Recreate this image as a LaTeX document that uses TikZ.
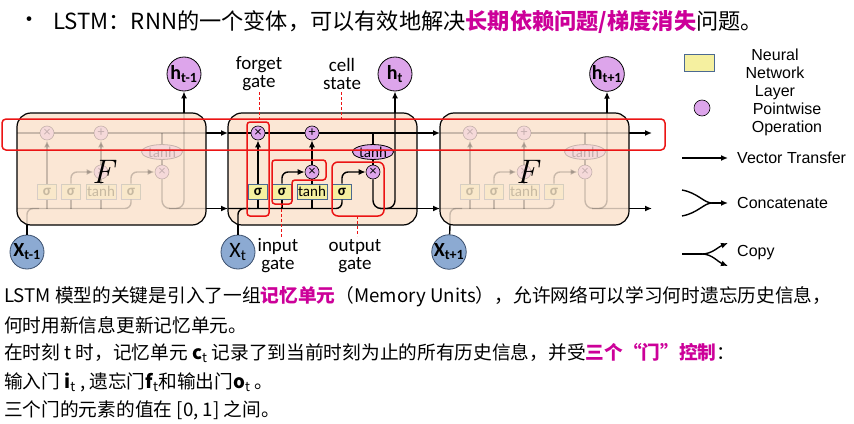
\documentclass[tikz,border=0pt]{standalone}
\usepackage{fontspec}
\setmainfont{Noto Sans CJK SC}
\newfontfamily\calfont{Carlito}
\newfontfamily\arialfont{Liberation Sans}
\newfontfamily\lmfont{Latin Modern Roman}
\usetikzlibrary{arrows.meta,shapes.geometric}
\definecolor{peach}{RGB}{251,231,213}
\definecolor{sigfill}{RGB}{245,240,160}
\definecolor{sigdraw}{RGB}{75,105,145}
\definecolor{opfill}{RGB}{221,165,235}
\definecolor{xfill}{RGB}{140,170,210}
\definecolor{xdraw}{RGB}{60,80,110}
\definecolor{mag}{RGB}{204,0,153}
\definecolor{redline}{RGB}{235,20,20}
\tikzset{
  cellbox/.style={draw=black,line width=1.2pt,fill=peach,rounded corners=14pt,minimum width=189pt,minimum height=112pt,inner sep=0pt},
  flow/.style={draw=black,line width=1.4pt},
  tip/.style={-{Latex[length=7pt,width=6pt]}},
  opnode/.style={circle,draw=black,line width=0.6pt,fill=opfill,minimum size=14pt,inner sep=0pt,font=\calfont\fontsize{14}{14}\selectfont},
  signode/.style={rectangle,draw=sigdraw,line width=1pt,fill=sigfill,minimum width=19pt,minimum height=15pt,inner sep=0pt,font=\calfont\bfseries\fontsize{15}{15}\selectfont},
  thnode/.style={ellipse,draw=black,line width=0.8pt,fill=opfill,minimum width=41pt,minimum height=13pt,inner sep=0pt,font=\calfont\fontsize{15}{15}\selectfont},
  hnode/.style={circle,draw=black,line width=0.8pt,fill=opfill,minimum size=34pt,inner sep=0pt,font=\calfont\bfseries\fontsize{20}{20}\selectfont},
  xnode/.style={circle,draw=xdraw,line width=0.8pt,fill=xfill,minimum size=34pt,inner sep=0pt,font=\calfont\fontsize{22}{22}\selectfont},
  redbox/.style={draw=redline,line width=1.5pt,rounded corners=4pt},
  reddash/.style={draw=redline,line width=1pt,dashed,dash pattern=on 3pt off 2pt},
  lbl/.style={font=\calfont\fontsize{19}{18}\selectfont,align=center,inner sep=0pt},
  lgtext/.style={font=\arialfont\fontsize{16}{18}\selectfont,inner sep=0pt},
  bigF/.style={font=\lmfont\itshape\fontsize{34}{34}\selectfont,inner sep=0pt},
  txt/.style={anchor=west,inner sep=0pt,font=\fontsize{18.7}{18.7}\selectfont},
}
% inner structure of one LSTM cell, in the coordinates of the middle cell
\newcommand\lstminner[1]{%
  \node[opnode] (#1fx) at (258pt,-133pt) {×};
  \node[opnode] (#1px) at (312pt,-133pt) {+};
  \node[opnode] (#1ix) at (312pt,-172pt) {×};
  \node[opnode] (#1ox) at (373pt,-172pt) {×};
  \node[thnode] (#1th) at (373pt,-152pt) {tanh};
  \node[signode] (#1s1) at (258pt,-191.5pt) {σ};
  \node[signode] (#1s2) at (282pt,-191.5pt) {σ};
  \node[signode,minimum width=30pt,font=\calfont\fontsize{15}{15}\selectfont] (#1tb) at (312pt,-191.5pt) {tanh};
  \node[signode] (#1s4) at (342pt,-191.5pt) {σ};
  \coordinate (#1cl) at (228pt,-133pt);
  \coordinate (#1cr) at (417pt,-133pt);
  \coordinate (#1bl) at (228pt,-208.5pt);
  \coordinate (#1br) at (417pt,-208.5pt);
  \coordinate (#1xb) at (238pt,-225pt);
  \coordinate (#1xm) at (250pt,-208.5pt);
  \coordinate (#1hb) at (380pt,-208.5pt);
  \coordinate (#1ht) at (395pt,-113pt);
  \coordinate (#1tc) at (373pt,-133pt);
  \draw[flow] (#1cl) -- (#1fx);
  \draw[flow] (#1fx) -- (#1px);
  \draw[flow] (#1px) -- (#1cr);
  \draw[flow,rounded corners=6pt] (#1bl) -| (#1s4.south);
  \draw[flow,rounded corners=6pt] (#1xb) |- (#1xm);
  \draw[flow] (#1s1.south) -- (#1s1.south |- #1bl);
  \draw[flow] (#1s2.south) -- (#1s2.south |- #1bl);
  \draw[flow] (#1tb.south) -- (#1tb.south |- #1bl);
  \draw[flow,tip] (#1s1) -- (#1fx);
  \draw[flow,tip,rounded corners=6pt] (#1s2.north) |- (#1ix.west);
  \draw[flow] (#1tb) -- (#1ix);
  \draw[flow,tip] (#1ix) -- (#1px);
  \draw[flow,tip,rounded corners=6pt] (#1s4.north) |- (#1ox.west);
  \draw[flow] (#1tc) -- (#1th.north);
  \draw[flow] (#1th) -- (#1ox);
  \draw[flow,rounded corners=8pt] (#1ox.south) |- (#1br);
  \draw[flow,rounded corners=8pt] (#1hb) -| (#1ht);
}
\begin{document}
\begin{tikzpicture}[x=1pt,y=-1pt]
\useasboundingbox (0,0) rectangle (854,423);
% title line
\node[inner sep=0pt,font=\fontsize{22}{22}\selectfont] (bul) at (30,22) {•};
\node[inner sep=0pt,anchor=west,font=\fontsize{22.2}{22}\selectfont] (title) at (53,22) {LSTM：RNN的一个变体，可以有效地解决{\bfseries\color{mag}长期依赖问题/梯度消失}问题。};
% cell boxes
\node[cellbox] (lbox) at (111.5,169) {};
\node[cellbox] (mbox) at (322.5,169) {};
\node[cellbox] (rbox) at (534.5,169) {};
% inner structures
\begin{scope}[xshift=-211pt,opacity=0.2]
  \lstminner{l}
\end{scope}
\lstminner{m}
\begin{scope}[xshift=212pt,opacity=0.2]
  \lstminner{r}
\end{scope}
\node[bigF] (lF) at (103,172) {F};
\node[bigF] (rF) at (527,172) {F};
% outputs and inputs
\node[hnode] (hl) at (184,74) {h\textsubscript{t-1}};
\node[hnode] (hm) at (395,74) {h\textsubscript{t}};
\node[hnode] (hr) at (607,74) {h\textsubscript{t+1}};
\node[xnode,font=\calfont\bfseries\fontsize{20}{20}\selectfont] (xl) at (27,252) {X\textsubscript{t-1}};
\node[xnode] (xm) at (238,252) {X\textsubscript{t}};
\node[xnode,font=\calfont\bfseries\fontsize{20}{20}\selectfont] (xr) at (449,252) {X\textsubscript{t+1}};
\draw[flow,tip] (lht) -- (hl);
\draw[flow,tip] (mht) -- (hm);
\draw[flow,tip] (rht) -- (hr);
\draw[flow] (xl) -- (lxb);
\draw[flow] (xm) -- (mxb);
\draw[flow] (xr) -- (rxb);
% connections between cells
\coordinate (endc) at (652,133);
\coordinate (endb) at (652,208.5);
\draw[flow,tip] (lcr) -- (mcl);
\draw[flow,tip] (lbr) -- (mbl);
\draw[flow,tip] (mcr) -- (rcl);
\draw[flow,tip] (mbr) -- (rbl);
\draw[flow,tip] (rcr) -- (endc);
\draw[flow,tip] (rbr) -- (endb);
% red highlights
\draw[redbox] (2,119) rectangle (665,150);
\draw[redbox,rounded corners=3pt] (247,122) rectangle (269,216);
\draw[redbox,rounded corners=3pt] (272,160) -- (326,160) -- (326,180) -- (292,180) -- (292,204) -- (272,204) -- cycle;
\draw[redbox,rounded corners=6pt] (332,162) rectangle (384,216);
% labels
\node[lbl] (lforget) at (259,74) {forget\\gate};
\node[lbl] (lcell) at (342,74) {cell\\state};
\node[lbl] (linput) at (278,256) {input\\gate};
\node[lbl] (loutput) at (355,256) {output\\gate};
\coordinate (d1a) at (259,92); \coordinate (d1b) at (259,122);
\coordinate (d2a) at (341,92); \coordinate (d2b) at (341,119);
\coordinate (d3a) at (281,204); \coordinate (d3b) at (281,238);
\coordinate (d4a) at (357,216); \coordinate (d4b) at (357,236);
\draw[reddash] (d1a) -- (d1b);
\draw[reddash] (d2a) -- (d2b);
\draw[reddash] (d3a) -- (d3b);
\draw[reddash] (d4a) -- (d4b);
% legend
\node[signode,minimum width=30pt,minimum height=17pt] (lgnn) at (699,62.5) {};
\node[lgtext,align=center] (lgnnt) at (775,74) {Neural\\Network\\Layer};
\node[opnode,minimum size=16pt] (lgop) at (702,108) {};
\node[lgtext,align=center] (lgopt) at (787,119) {Pointwise\\Operation};
\coordinate (lgv1) at (682,158); \coordinate (lgv2) at (728,158);
\draw[flow,tip] (lgv1) -- (lgv2);
\node[lgtext,anchor=west] (lgvt) at (737,158) {Vector Transfer};
\coordinate (lgc1) at (682,190); \coordinate (lgc2) at (682,216);
\coordinate (lgcm) at (712,203); \coordinate (lgce) at (728,203);
\draw[flow] (lgc1) .. controls (698,193) and (704,203) .. (lgcm);
\draw[flow] (lgc2) .. controls (698,213) and (704,203) .. (lgcm);
\draw[flow,tip] (lgcm) -- (lgce);
\node[lgtext,anchor=west] (lgct) at (737,203) {Concatenate};
\coordinate (lgk1) at (682,254); \coordinate (lgkm) at (702,254);
\coordinate (lgk2) at (728,243); \coordinate (lgk3) at (728,266);
\draw[flow] (lgk1) -- (lgkm);
\draw[flow,tip] (lgkm) .. controls (712,254) and (718,247) .. (lgk2);
\draw[flow,tip] (lgkm) .. controls (712,254) and (718,262) .. (lgk3);
\node[lgtext,anchor=west] (lgkt) at (737,253) {Copy};
% bottom text
\node[txt] (t1) at (4,297) {LSTM 模型的关键是引入了一组{\bfseries\color{mag}记忆单元}（Memory Units），允许网络可以学习何时遗忘历史信息，};
\node[txt] (t2) at (4,325) {何时用新信息更新记忆单元。};
\node[txt] (t3) at (4,353) {在时刻 t 时，记忆单元 {\bfseries c}\textsubscript{t} 记录了到当前时刻为止的所有历史信息，并受{\bfseries\color{mag}三个“门”控制}：};
\node[txt] (t4) at (4,382) {输入门 {\bfseries i}\textsubscript{t} , 遗忘门{\bfseries f}\textsubscript{t}和输出门{\bfseries o}\textsubscript{t} 。};
\node[txt] (t5) at (4,410) {三个门的元素的值在 [0, 1] 之间。};
\end{tikzpicture}
\end{document}
